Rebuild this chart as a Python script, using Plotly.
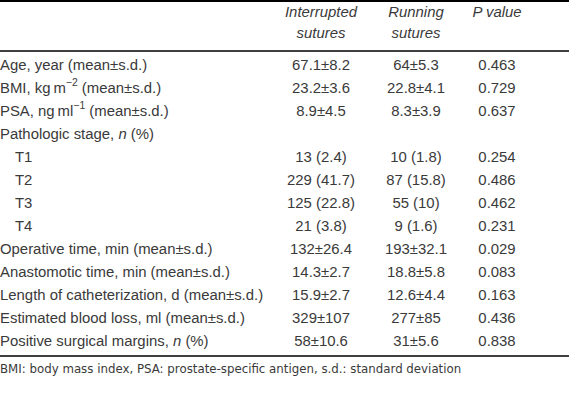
import plotly.graph_objects as go

# ---- table content ----
HEADER_LINE1 = ["<i>Interrupted</i>", "<i>Running</i>", "<i>P value</i>"]
HEADER_LINE2 = ["<i>sutures</i>", "<i>sutures</i>", ""]
LABELS = [
    "Age, year (mean±s.d.)",
    "BMI, kg\u2009m<sup>−2</sup> (mean±s.d.)",
    "PSA, ng\u2009ml<sup>−1</sup> (mean±s.d.)",
    "Pathologic stage, <i>n</i> (%)",
    "T1", "T2", "T3", "T4",
    "Operative time, min (mean±s.d.)",
    "Anastomotic time, min (mean±s.d.)",
    "Length of catheterization, d (mean±s.d.)",
    "Estimated blood loss, ml (mean±s.d.)",
    "Positive surgical margins, <i>n</i> (%)",
]
INDENT = [0, 0, 0, 0, 1, 1, 1, 1, 0, 0, 0, 0, 0]
INTERRUPTED = ["67.1±8.2", "23.2±3.6", "8.9±4.5", "", "13 (2.4)", "229 (41.7)",
               "125 (22.8)", "21 (3.8)", "132±26.4", "14.3±2.7", "15.9±2.7",
               "329±107", "58±10.6"]
RUNNING = ["64±5.3", "22.8±4.1", "8.3±3.9", "", "10 (1.8)", "87 (15.8)",
           "55 (10)", "9 (1.6)", "193±32.1", "18.8±5.8", "12.6±4.4",
           "277±85", "31±5.6"]
P_VALUE = ["0.463", "0.729", "0.637", "", "0.254", "0.486", "0.462", "0.231",
           "0.029", "0.083", "0.163", "0.436", "0.838"]
FOOTNOTE = "BMI: body mass index, PSA: prostate-specific antigen, s.d.: standard deviation"

# ---- layout constants (pixels) ----
W, H = 569, 412
ROW0_PX, ROW_STEP_PX = 66, 23.0
HEAD1_PX, HEAD2_PX = 13, 34
RULES_PX = [(1, 2), (51, 1.3), (356, 1.3)]
FOOT_PX = 370
COL_X = [0, 321, 416, 497]
TEXT_COLOR = "#3a3a3a"
FONT = "Liberation Sans, Arial, sans-serif"
FS = 14.9

n = len(LABELS)
rows = list(range(n))


def px_to_row(px):
    return (px - ROW0_PX) / ROW_STEP_PX


y_top = px_to_row(0)
y_bot = px_to_row(H)

fig = go.Figure()
font = dict(family=FONT, size=FS, color=TEXT_COLOR)

labels_txt = [("\u2003" if ind else "") + lab for lab, ind in zip(LABELS, INDENT)]
fig.add_trace(go.Scatter(x=[COL_X[0]] * n, y=rows, text=labels_txt, mode="text",
                         textposition="middle right", textfont=font, hoverinfo="skip"))
for ci, col in enumerate([INTERRUPTED, RUNNING, P_VALUE], start=1):
    fig.add_trace(go.Scatter(x=[COL_X[ci]] * n, y=rows, text=col, mode="text",
                             textposition="middle center", textfont=font, hoverinfo="skip"))
# header (two lines)
for hy, htxt in [(px_to_row(HEAD1_PX), HEADER_LINE1), (px_to_row(HEAD2_PX), HEADER_LINE2)]:
    fig.add_trace(go.Scatter(x=COL_X[1:], y=[hy] * 3, text=htxt, mode="text",
                             textposition="middle center", textfont=font, hoverinfo="skip"))
# footnote
fig.add_trace(go.Scatter(x=[COL_X[0]], y=[px_to_row(FOOT_PX)], text=[FOOTNOTE], mode="text",
                         textposition="middle right",
                         textfont=dict(family="DejaVu Sans, sans-serif", size=11.8, color=TEXT_COLOR),
                         hoverinfo="skip"))

# horizontal rules
for ypx, wd in RULES_PX:
    yv = px_to_row(ypx)
    fig.add_shape(type="line", xref="paper", x0=0, x1=1, yref="y", y0=yv, y1=yv,
                  line=dict(color="black", width=wd))

fig.update_layout(
    width=W, height=H, margin=dict(l=0, r=0, t=0, b=0),
    paper_bgcolor="white", plot_bgcolor="white", showlegend=False,
    xaxis=dict(range=[0, W], visible=False, fixedrange=True),
    yaxis=dict(range=[y_bot, y_top], visible=False, fixedrange=True),
)
fig.write_html("out.html", config={"displayModeBar": False},
               post_script="document.body.style.margin='0';")
